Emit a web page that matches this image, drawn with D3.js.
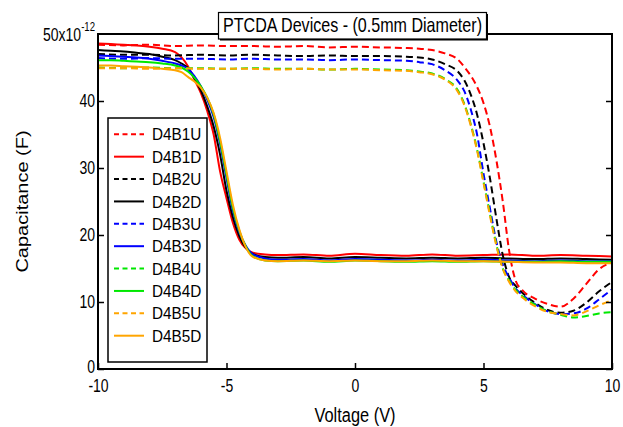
<!DOCTYPE html>
<html>
<head>
<meta charset="utf-8">
<script src="https://cdn.jsdelivr.net/npm/d3@7"></script>
<style>
   html, body { margin: 0; padding: 0; background: #fff; }
   svg { display: block; font-family: 'Liberation Sans', Arial, sans-serif; }
</style>
</head>
<body>
<div id="chart"></div>
<script>
// voltage grids (V) for the down (D) and up (U) sweeps
const downVoltage = [-10, -9.5, -9, -8.5, -8, -7.5, -7, -6.75, -6.5, -6.25, -6, -5.75, -5.5, -5.25, -5, -4.75, -4.5, -4.25, -4, -3.5, -3, -2, -1, 0, 1, 2, 3, 4, 5, 6, 7, 8, 9, 10];
const upVoltage = [-10, -9, -8, -7, -6, -5, -4, -3, -2, -1, 0, 1, 2, 2.5, 3, 3.5, 4, 4.25, 4.5, 4.75, 5, 5.25, 5.5, 5.75, 6, 6.25, 6.5, 7, 7.5, 8, 8.5, 9, 9.5, 10];

// capacitance, units of 1e-12 F
const d4b1u = [48.4, 48.3, 48.4, 48.2, 48.3, 48.2, 48.2, 48.1, 48.2, 48.0, 48.1, 48.0, 47.9, 47.8, 47.6, 47.1, 46.2, 45.1, 43.8, 42.1, 39.7, 36.2, 31.2, 25.0, 17.6, 13.2, 11.8, 10.5, 9.7, 9.3, 10.5, 12.7, 14.9, 15.9];
const d4b1d = [48.6, 48.5, 48.4, 48.3, 48.1, 47.8, 47.3, 46.5, 45.2, 43.2, 41.2, 38.5, 35.0, 29.5, 25.5, 21.8, 19.3, 18.0, 17.4, 17.1, 17.0, 17.1, 16.9, 17.2, 17.0, 16.9, 17.1, 16.9, 17.0, 17.1, 16.9, 17.0, 16.9, 16.8];
const d4b2u = [47.0, 46.9, 46.9, 46.8, 46.9, 46.8, 46.9, 46.8, 46.7, 46.8, 46.7, 46.7, 46.6, 46.5, 46.2, 45.5, 44.4, 43.1, 41.0, 38.0, 33.7, 28.5, 22.5, 17.0, 13.7, 12.4, 11.4, 9.9, 8.8, 8.4, 8.7, 9.9, 11.6, 13.0];
const d4b2d = [47.6, 47.5, 47.4, 47.2, 47.0, 46.6, 46.1, 45.6, 44.9, 43.4, 41.6, 39.2, 36.2, 32.0, 26.6, 22.6, 19.8, 18.1, 17.2, 16.7, 16.6, 16.7, 16.5, 16.7, 16.6, 16.5, 16.6, 16.5, 16.6, 16.5, 16.4, 16.5, 16.4, 16.3];
const d4b3u = [46.4, 46.3, 46.4, 46.3, 46.3, 46.2, 46.3, 46.2, 46.2, 46.1, 46.2, 46.1, 46.0, 45.8, 45.5, 44.6, 43.0, 41.5, 38.8, 35.0, 29.2, 24.0, 19.0, 15.6, 13.6, 12.0, 11.1, 9.7, 8.6, 8.2, 8.3, 9.0, 10.4, 11.9];
const d4b3d = [46.8, 46.7, 46.6, 46.5, 46.3, 46.0, 45.6, 45.3, 44.8, 43.7, 42.2, 40.2, 37.6, 33.6, 28.5, 23.6, 20.4, 18.4, 17.2, 16.5, 16.3, 16.4, 16.2, 16.4, 16.3, 16.2, 16.3, 16.2, 16.3, 16.2, 16.1, 16.2, 16.1, 16.1];
const d4b4u = [45.0, 44.9, 45.0, 44.9, 44.9, 44.8, 44.9, 44.8, 44.8, 44.7, 44.8, 44.7, 44.6, 44.4, 44.1, 43.3, 41.6, 39.6, 36.6, 32.8, 28.0, 23.2, 18.6, 15.0, 13.2, 11.8, 10.9, 9.6, 8.6, 8.1, 7.7, 7.9, 8.3, 8.5];
const d4b4d = [46.1, 46.1, 46.0, 45.9, 45.8, 45.6, 45.3, 45.0, 44.4, 43.5, 42.2, 40.5, 38.0, 34.0, 29.0, 24.0, 20.6, 18.3, 16.9, 16.2, 16.1, 16.2, 16.0, 16.2, 16.1, 16.0, 16.1, 16.0, 16.1, 16.0, 16.0, 16.1, 16.0, 16.0];
const d4b5u = [44.9, 44.9, 44.8, 44.9, 44.8, 44.8, 44.8, 44.7, 44.8, 44.7, 44.7, 44.6, 44.5, 44.3, 44.0, 43.2, 41.4, 39.4, 36.4, 32.6, 27.8, 22.9, 18.4, 15.0, 13.0, 11.6, 10.7, 9.4, 8.5, 8.2, 8.0, 8.6, 9.5, 10.3];
const d4b5d = [45.3, 45.3, 45.2, 45.1, 45.0, 44.8, 44.6, 44.3, 43.6, 42.9, 42.0, 40.5, 38.2, 34.5, 29.5, 24.5, 20.8, 18.2, 16.8, 16.2, 16.1, 16.2, 16.1, 16.2, 16.1, 16.1, 16.2, 16.1, 16.1, 16.0, 15.9, 15.9, 15.8, 15.8];

const seriesNames = ['D4B1U', 'D4B1D', 'D4B2U', 'D4B2D', 'D4B3U', 'D4B3D', 'D4B4U', 'D4B4D', 'D4B5U', 'D4B5D'];
const seriesValues = [d4b1u, d4b1d, d4b2u, d4b2d, d4b3u, d4b3d, d4b4u, d4b4d, d4b5u, d4b5d];
const seriesColors = ['#ff0000', '#ff0000', '#000000', '#000000', '#0000ff', '#0000ff', '#00e800', '#00e800', '#ffa500', '#ffa500'];

const xTicks = [-10, -5, 0, 5, 10];
const yTicks = [0, 10, 20, 30, 40];

// squash text horizontally, the source picture is a bit narrow
function squeeze(text, k) {
   text.each(function () {
      const t = d3.select(this);
      const x = +t.attr('x') || 0;
      const y = +t.attr('y') || 0;
      t.attr('x', null)
         .attr('y', null)
         .attr('transform', `translate(${x},${y}) scale(${k},1)`);
   });
}

class CvChart {
   constructor(_config) {
      this.config = {
         parentElementSelector: _config.parentElementSelector,
         width: _config.width || 623,
         height: _config.height || 427,
         margin: _config.margin || { top: 34, right: 11, bottom: 58, left: 98 },
         title: _config.title,
         xAxisTitle: _config.xAxisTitle,
         yAxisTitle: _config.yAxisTitle,
      };
      this.series = seriesNames.map((name, i) => ({
         name: name,
         color: seriesColors[i],
         dashed: name.endsWith('U'),
         points: (name.endsWith('U') ? upVoltage : downVoltage).map((v, j) => [v, seriesValues[i][j]]),
      }));
      this.initVis();
   }

   initVis() {
      const { width, height, margin } = this.config;
      const innerW = width - margin.left - margin.right;
      const innerH = height - margin.top - margin.bottom;

      this.svg = d3
         .select(this.config.parentElementSelector)
         .append('svg')
         .attr('width', width)
         .attr('height', height);

      this.xScale = d3.scaleLinear().domain([-10, 10]).range([margin.left, width - margin.right]);
      this.yScale = d3.scaleLinear().domain([0, 50]).range([height - margin.bottom, margin.top]);

      this.svg
         .append('defs')
         .append('clipPath')
         .attr('id', 'clip')
         .append('rect')
         .attr('x', margin.left)
         .attr('y', margin.top)
         .attr('width', innerW)
         .attr('height', innerH);

      // curves
      const line = d3
         .line()
         .x((d) => this.xScale(d[0]))
         .y((d) => this.yScale(d[1]))
         .curve(d3.curveMonotoneX);

      this.svg
         .append('g')
         .attr('class', 'data-group')
         .attr('clip-path', 'url(#clip)')
         .selectAll('path')
         .data(this.series)
         .join('path')
         .attr('d', (s) => line(s.points))
         .attr('fill', 'none')
         .attr('stroke', (s) => s.color)
         .attr('stroke-width', 2)
         .attr('stroke-dasharray', (s) => (s.dashed ? '7,4' : null));

      // axes, ticks point inward
      const xAxisG = this.svg
         .append('g')
         .attr('transform', `translate(0,${height - margin.bottom})`)
         .call(
            d3.axisBottom(this.xScale).tickValues(xTicks).tickSize(-6).tickPadding(11).tickFormat((d) => String(d))
         );
      const yAxisG = this.svg
         .append('g')
         .attr('transform', `translate(${margin.left},0)`)
         .call(d3.axisLeft(this.yScale).tickValues(yTicks).tickSize(-6).tickPadding(3).tickFormat((d) => String(d)));
      const rightAxisG = this.svg
         .append('g')
         .attr('transform', `translate(${width - margin.right},0)`)
         .call(d3.axisRight(this.yScale).tickValues(yTicks).tickSize(-6).tickFormat(''));

      [xAxisG, yAxisG, rightAxisG].forEach((g) => {
         g.select('.domain').remove();
         g.selectAll('line').attr('stroke', '#000').attr('stroke-width', 1.5);
         g.selectAll('text')
            .attr('fill', '#000')
            .attr('font-family', "'Liberation Sans', Arial, sans-serif")
            .attr('font-size', 17.5);
      });
      // the 0 label sits just above the -10 label
      yAxisG
         .selectAll('text')
         .filter((d) => d === 0)
         .attr('dy', '0.18em');
      xAxisG.selectAll('text').call(squeeze, 0.8);
      yAxisG.selectAll('text').call(squeeze, 0.8);

      // exponent label on top of the y axis
      const expo = this.svg
         .append('text')
         .attr('text-anchor', 'end')
         .attr('font-size', 17.5)
         .attr('transform', `translate(${margin.left - 3},40.5) scale(0.8,1)`);
      expo.append('tspan').text('50x10');
      expo.append('tspan').attr('font-size', 12).attr('dy', -10).text('-12');

      // frame
      this.svg
         .append('rect')
         .attr('x', margin.left)
         .attr('y', margin.top)
         .attr('width', innerW)
         .attr('height', innerH)
         .attr('fill', 'none')
         .attr('stroke', '#000')
         .attr('stroke-width', 2);

      // axis titles
      this.svg
         .append('text')
         .attr('text-anchor', 'middle')
         .attr('font-size', 21)
         .attr('transform', `translate(${margin.left + innerW / 2},421.5) scale(0.78,1)`)
         .text(this.config.xAxisTitle);

      this.svg
         .append('text')
         .attr('text-anchor', 'middle')
         .attr('font-size', 20)
         .attr('transform', `translate(28,${margin.top + innerH / 2}) rotate(-90) scale(1,0.8)`)
         .text(this.config.yAxisTitle);

      this.drawTitle();
      this.drawLegend();
   }

   drawTitle() {
      const box = { x: 218.5, y: 12.5, w: 268, h: 26.5 };
      const g = this.svg.append('g').attr('class', 'title');
      g.append('rect')
         .attr('x', box.x + 1.5)
         .attr('y', box.y + 1.5)
         .attr('width', box.w)
         .attr('height', box.h)
         .attr('fill', '#000');
      g.append('rect')
         .attr('x', box.x)
         .attr('y', box.y)
         .attr('width', box.w)
         .attr('height', box.h)
         .attr('fill', '#fff')
         .attr('stroke', '#000')
         .attr('stroke-width', 1.2);
      g.append('text')
         .attr('text-anchor', 'middle')
         .attr('font-size', 21)
         .attr('transform', `translate(${box.x + box.w / 2},31.7) scale(0.766,1)`)
         .text(this.config.title);
   }

   drawLegend() {
      const legend = this.svg.append('g').attr('class', 'legend').attr('transform', 'translate(108,118)');
      legend
         .append('rect')
         .attr('width', 99)
         .attr('height', 244)
         .attr('fill', '#fff')
         .attr('stroke', '#000')
         .attr('stroke-width', 1.5);

      const rowY = d3.scaleLinear().domain([0, 9]).range([16.3, 217.7]);
      const rows = legend
         .selectAll('.row')
         .data(this.series)
         .join('g')
         .attr('class', 'row')
         .attr('transform', (d, i) => `translate(0,${rowY(i)})`);
      rows.append('line')
         .attr('x1', 6)
         .attr('x2', 36)
         .attr('stroke', (d) => d.color)
         .attr('stroke-width', 2)
         .attr('stroke-dasharray', (d) => (d.dashed ? '5,3.5' : null));
      rows.append('text')
         .attr('font-size', 17)
         .attr('dy', '0.36em')
         .attr('transform', 'translate(44,0) scale(0.9,1)')
         .text((d) => d.name);
   }
}

new CvChart({
   parentElementSelector: '#chart',
   title: 'PTCDA Devices - (0.5mm Diameter)',
   xAxisTitle: 'Voltage (V)',
   yAxisTitle: 'Capacitance (F)',
});
</script>
</body>
</html>
